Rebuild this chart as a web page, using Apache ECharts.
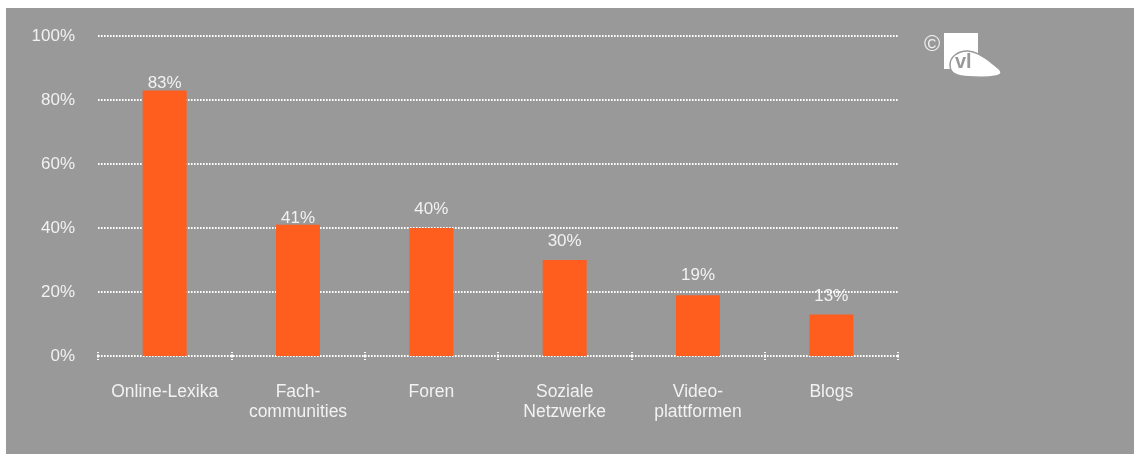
<!DOCTYPE html>
<html>
<head>
<meta charset="utf-8">
<title>Nutzung von Online-Angeboten</title>
<script src="https://cdn.jsdelivr.net/npm/echarts@6/dist/echarts.min.js"></script>
<style>
  html, body { margin: 0; padding: 0; background: #ffffff; }
  #chart { width: 1134px; height: 454px; }
</style>
</head>
<body>
<div id="chart"></div>
<script>
// Categories (line breaks as printed under the axis)
const categories = ['Online-Lexika', 'Fach-\ncommunities', 'Foren', 'Soziale\nNetzwerke', 'Video-\nplattformen', 'Blogs'];
// Share of respondents, in percent
const values = [83, 41, 40, 30, 19, 13];
// Value axis ticks
const yTicks = [0, 20, 40, 60, 80, 100];

// Gap between each value label and the top of its bar
const labelGap = [-1, -2, 10, 10, 11, 10];

const TEXT = '#f2f2f2';
const BAR = '#ff5e1f';
const FONT = '"Liberation Sans", Arial, sans-serif';

const chart = echarts.init(document.getElementById('chart'), null, { renderer: 'canvas' });

const dotted = { color: '#ffffff', width: 2, type: [1.6, 1.4] };

chart.setOption({
  animation: false,
  backgroundColor: '#ffffff',
  textStyle: { fontFamily: FONT },
  graphic: [
    // grey panel behind the chart
    { type: 'rect', z: -10, shape: { x: 6, y: 8, width: 1128, height: 446 }, style: { fill: '#999999' } },
    // copyright mark and logo
    { type: 'text', z: 10, x: 924, y: 34, style: { text: '©', fill: TEXT, fontSize: 22, fontFamily: FONT } },
    { type: 'rect', z: 10, shape: { x: 944, y: 33, width: 34, height: 36 }, style: { fill: '#ffffff' } },
    { type: 'polygon', z: 11,
      shape: {
        points: [[950, 65], [955, 55], [968, 51], [982, 56], [993, 64], [1001, 72], [996, 76], [974, 77], [955, 74]],
        smooth: 0.45
      },
      style: { fill: '#ffffff', stroke: '#999999', lineWidth: 1.5 } },
    { type: 'text', z: 12, x: 955, y: 52, style: { text: 'vl', fill: '#999999', fontSize: 20, fontWeight: 'bold', fontFamily: FONT } }
  ],
  grid: { left: 98, right: 236, top: 36, bottom: 98, containLabel: false },
  xAxis: [
    {
      type: 'category',
      data: categories,
      boundaryGap: true,
      // the 0% line comes from the value axis grid
      axisLine: { show: false },
      axisTick: { show: true, length: 4, lineStyle: dotted },
      axisLabel: { color: TEXT, fontSize: 17.5, lineHeight: 20, margin: 26, interval: 0, fontFamily: FONT },
      splitLine: { show: false }
    },
    {
      // inward half of the boundary ticks
      type: 'category',
      data: categories,
      position: 'bottom',
      boundaryGap: true,
      axisLine: { show: false },
      axisTick: { show: true, inside: true, length: 4, lineStyle: dotted },
      axisLabel: { show: false },
      splitLine: { show: false }
    }
  ],
  yAxis: {
    type: 'value',
    min: yTicks[0],
    max: yTicks[yTicks.length - 1],
    interval: yTicks[1] - yTicks[0],
    axisLine: { show: false },
    axisTick: { show: false },
    axisLabel: { color: TEXT, fontSize: 17, margin: 23, formatter: '{value}%', fontFamily: FONT },
    splitLine: { show: true, lineStyle: dotted }
  },
  series: [{
    type: 'bar',
    barWidth: 44,
    data: values.map((v, i) => ({
      value: v,
      label: { distance: labelGap[i] }
    })),
    itemStyle: { color: BAR },
    label: {
      show: true,
      position: 'top',
      color: TEXT,
      fontSize: 17,
      fontFamily: FONT,
      formatter: '{c}%'
    },
    z: 3
  }]
});
</script>
</body>
</html>
